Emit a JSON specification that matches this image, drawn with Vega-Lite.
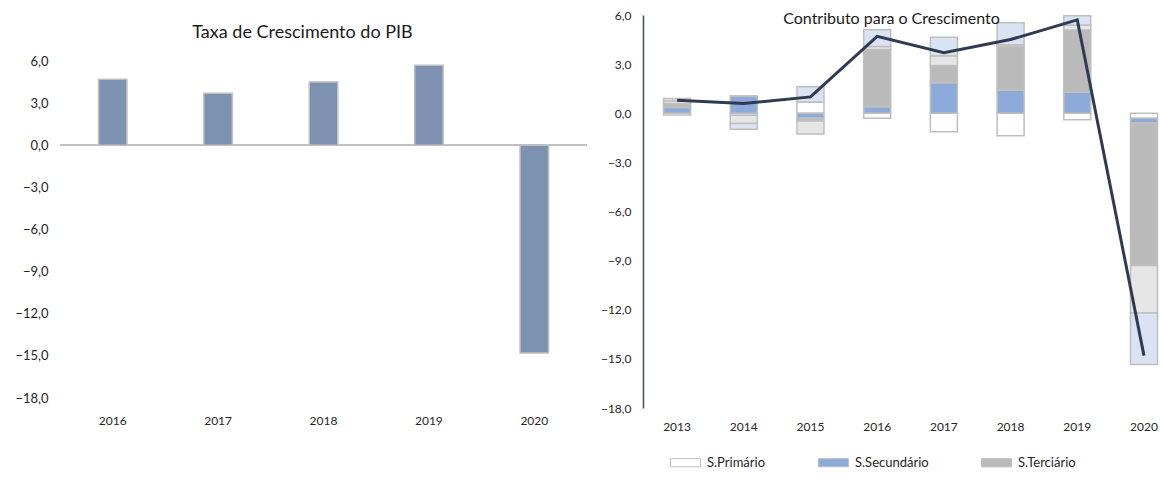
{
  "$schema": "https://vega.github.io/schema/vega-lite/v6.json",
  "background": "white",
  "padding": {"left": 14, "top": 9, "right": 0, "bottom": 0},
  "config": {
    "view": {"stroke": null},
    "font": "Lato",
    "axis": {"labelFont": "Lato", "labelFontSize": 12, "labelColor": "#262626", "grid": false, "ticks": false, "title": null},
    "title": {"font": "Lato", "fontWeight": "normal", "color": "#1a1a1a"}
  },
  "datasets": {
    "pib": [
      {"ano": 2013, "pib": 0.8},
      {"ano": 2014, "pib": 0.6},
      {"ano": 2015, "pib": 1.0},
      {"ano": 2016, "pib": 4.7},
      {"ano": 2017, "pib": 3.7},
      {"ano": 2018, "pib": 4.5},
      {"ano": 2019, "pib": 5.7},
      {"ano": 2020, "pib": -14.8}
    ],
    "contrib": [
      {"ano": 2013, "setor": "S.Primário", "valor": -0.1},
      {"ano": 2013, "setor": "S.Secundário", "valor": 0.35},
      {"ano": 2013, "setor": "S.Terciário", "valor": 0.25},
      {"ano": 2013, "setor": "Outros", "valor": 0.15},
      {"ano": 2013, "setor": "Impostos", "valor": 0.15},
      {"ano": 2014, "setor": "S.Primário", "valor": -0.12},
      {"ano": 2014, "setor": "S.Secundário", "valor": 1.05},
      {"ano": 2014, "setor": "S.Terciário", "valor": 0.0},
      {"ano": 2014, "setor": "Outros", "valor": -0.5},
      {"ano": 2014, "setor": "Impostos", "valor": -0.35},
      {"ano": 2015, "setor": "S.Primário", "valor": 0.69},
      {"ano": 2015, "setor": "S.Secundário", "valor": -0.3},
      {"ano": 2015, "setor": "S.Terciário", "valor": -0.17},
      {"ano": 2015, "setor": "Outros", "valor": -0.8},
      {"ano": 2015, "setor": "Impostos", "valor": 0.93},
      {"ano": 2016, "setor": "S.Primário", "valor": -0.3},
      {"ano": 2016, "setor": "S.Secundário", "valor": 0.4},
      {"ano": 2016, "setor": "S.Terciário", "valor": 3.5},
      {"ano": 2016, "setor": "Outros", "valor": 0.18},
      {"ano": 2016, "setor": "Impostos", "valor": 1.02},
      {"ano": 2017, "setor": "S.Primário", "valor": -1.13},
      {"ano": 2017, "setor": "S.Secundário", "valor": 1.86},
      {"ano": 2017, "setor": "S.Terciário", "valor": 1.05},
      {"ano": 2017, "setor": "Outros", "valor": 0.6},
      {"ano": 2017, "setor": "Impostos", "valor": 1.13},
      {"ano": 2018, "setor": "S.Primário", "valor": -1.37},
      {"ano": 2018, "setor": "S.Secundário", "valor": 1.41},
      {"ano": 2018, "setor": "S.Terciário", "valor": 2.67},
      {"ano": 2018, "setor": "Outros", "valor": 0.1},
      {"ano": 2018, "setor": "Impostos", "valor": 1.35},
      {"ano": 2019, "setor": "S.Primário", "valor": -0.4},
      {"ano": 2019, "setor": "S.Secundário", "valor": 1.29},
      {"ano": 2019, "setor": "S.Terciário", "valor": 3.8},
      {"ano": 2019, "setor": "Outros", "valor": 0.3},
      {"ano": 2019, "setor": "Impostos", "valor": 0.57},
      {"ano": 2020, "setor": "S.Primário", "valor": -0.3},
      {"ano": 2020, "setor": "S.Secundário", "valor": -0.3},
      {"ano": 2020, "setor": "S.Terciário", "valor": -8.7},
      {"ano": 2020, "setor": "Outros", "valor": -2.9},
      {"ano": 2020, "setor": "Impostos", "valor": -3.15}
    ]
  },
  "bounds": "flush",
  "spacing": 56,
  "hconcat": [
    {
      "width": 527,
      "height": 383,
      "title": {"text": "Taxa de Crescimento do PIB", "anchor": "middle", "offset": -27, "dx": -21, "fontSize": 18},
      "data": {"name": "pib"},
      "transform": [{"filter": "datum.ano >= 2016"}],
      "layer": [
        {
          "mark": {"type": "rule", "color": "#bfbfbf", "strokeWidth": 1.5},
          "encoding": {"y": {"datum": 0, "type": "quantitative"}}
        },
        {
          "mark": {"type": "bar", "fill": "#7d91b0", "stroke": "#bfbfbf", "strokeWidth": 1.5},
          "encoding": {
            "x": {"field": "ano", "type": "ordinal", "scale": {"paddingInner": 0.73, "paddingOuter": 0.365},
                  "axis": {"labelAngle": 0, "domain": false, "labelPadding": 17}},
            "y": {"field": "pib", "type": "quantitative", "scale": {"domain": [-18, 9.28], "nice": false, "zero": false},
                  "axis": {"values": [-18, -15, -12, -9, -6, -3, 0, 3, 6], "domain": false, "labelPadding": 12, "labelFontSize": 13,
                           "labelExpr": "replace(format(datum.value, '.1f'), '.', ',')"}}
          }
        }
      ]
    },
    {
      "width": 519,
      "height": 393,
      "title": {"text": "Contributo para o Crescimento", "anchor": "middle", "offset": -18, "dx": -11, "fontSize": 16},
      "layer": [
        {
          "data": {"name": "contrib"},
          "transform": [{"calculate": "indexof(['S.Primário', 'S.Secundário', 'S.Terciário', 'Outros', 'Impostos'], datum.setor)", "as": "ordem"}],
          "mark": {"type": "bar", "stroke": "#bfbfbf", "strokeWidth": 1.5},
          "encoding": {
            "x": {"field": "ano", "type": "ordinal",
                  "scale": {"paddingInner": 0.595, "paddingOuter": 0.188, "align": 0.82},
                  "axis": {"labelAngle": 0, "domain": false, "labelPadding": 13}},
            "y": {"field": "valor", "type": "quantitative", "stack": "zero",
                  "scale": {"domain": [-18, 6], "nice": false},
                  "axis": {"values": [-18, -15, -12, -9, -6, -3, 0, 3, 6], "domain": true, "domainColor": "#3a4a66", "domainWidth": 1.5,
                           "labelPadding": 12, "labelExpr": "replace(format(datum.value, '.1f'), '.', ',')"}},
            "color": {"field": "setor", "type": "nominal",
                      "scale": {"domain": ["S.Primário", "S.Secundário", "S.Terciário", "Outros", "Impostos"],
                                "range": ["#ffffff", "#8eaadb", "#bababa", "#e6e6e6", "#dae3f3"]},
                      "legend": {"values": ["S.Primário", "S.Secundário", "S.Terciário"], "title": null,
                                 "orient": "none", "legendX": 610, "legendY": 432, "direction": "horizontal",
                                 "symbolType": "M-1,-0.27H1V0.27H-1Z", "symbolSize": 900,
                                 "symbolStrokeColor": "#bfbfbf", "symbolStrokeWidth": 1,
                                 "labelFont": "Lato", "labelFontSize": 13, "labelColor": "#262626",
                                 "columnPadding": 50, "labelOffset": 6}},
            "order": {"field": "ordem", "type": "quantitative", "sort": "ascending"}
          }
        },
        {
          "mark": {"type": "rule", "color": "#3a4a66", "strokeWidth": 1.2},
          "encoding": {"y": {"datum": 0, "type": "quantitative"}}
        },
        {
          "data": {"name": "pib"},
          "mark": {"type": "line", "color": "#2f3b52", "strokeWidth": 3},
          "encoding": {
            "x": {"field": "ano", "type": "ordinal"},
            "y": {"field": "pib", "type": "quantitative"}
          }
        }
      ]
    }
  ]
}
